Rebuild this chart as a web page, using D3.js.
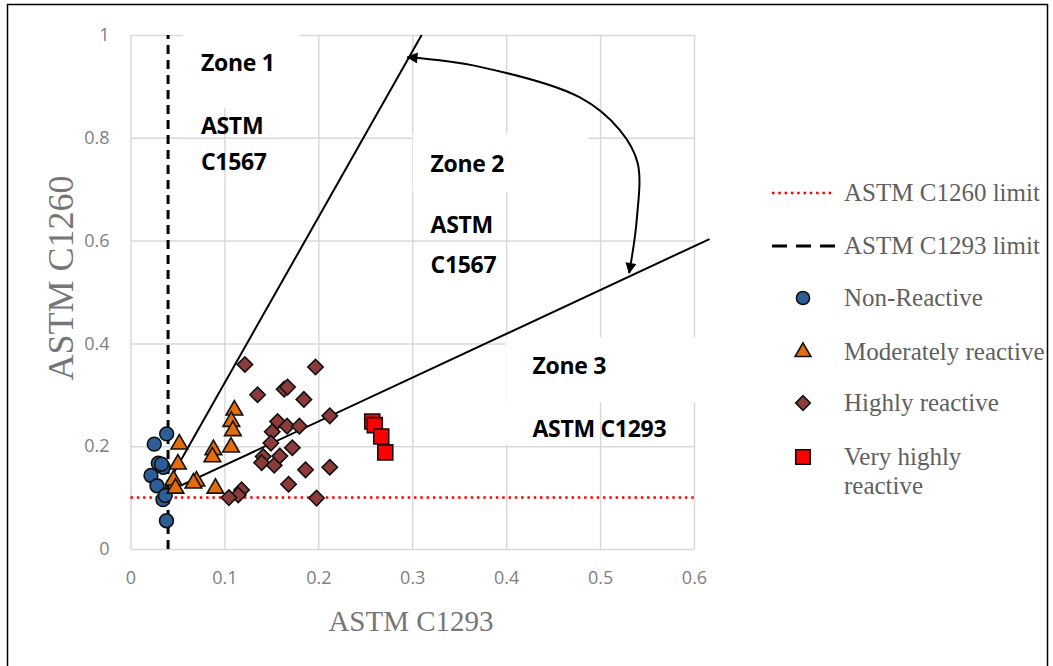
<!DOCTYPE html>
<html>
<head>
<meta charset="utf-8">
<script src="https://cdn.jsdelivr.net/npm/d3@7"></script>
<style>
  body { margin: 0; background: #fff; }
  svg { display: block; }
</style>
</head>
<body>
<div id="chart"></div>
<script>
// values: [ASTM C1293, ASTM C1260]
const nonReactive = [
  [0.0385, 0.224], [0.0253, 0.204], [0.0296, 0.167], [0.0349, 0.159], [0.033, 0.165],
  [0.0218, 0.143], [0.0282, 0.123], [0.0346, 0.096], [0.037, 0.104], [0.0383, 0.055]
];
const moderatelyReactive = [
  [0.052, 0.204], [0.0505, 0.165], [0.0457, 0.134], [0.0479, 0.118], [0.0702, 0.132],
  [0.067, 0.128], [0.0883, 0.193], [0.0872, 0.179], [0.0904, 0.118], [0.1106, 0.270],
  [0.1074, 0.248], [0.109, 0.230], [0.107, 0.198]
];
const highlyReactive = [
  [0.1218, 0.359], [0.1353, 0.300], [0.1636, 0.311], [0.1672, 0.315], [0.1846, 0.291],
  [0.197, 0.354], [0.2122, 0.259], [0.1566, 0.248], [0.1509, 0.228], [0.1667, 0.239],
  [0.1798, 0.239], [0.1495, 0.206], [0.1723, 0.197], [0.1413, 0.180], [0.1396, 0.168],
  [0.153, 0.163], [0.159, 0.181], [0.1864, 0.154], [0.2122, 0.159], [0.1683, 0.126],
  [0.1981, 0.099], [0.1183, 0.115], [0.1147, 0.105], [0.1048, 0.100]
];
const veryHighlyReactive = [
  [0.2574, 0.248], [0.2601, 0.241], [0.267, 0.219], [0.2713, 0.188]
];

const xTicks = [0, 0.1, 0.2, 0.3, 0.4, 0.5, 0.6];
const yTicks = [0, 0.2, 0.4, 0.6, 0.8, 1];

const limitC1260 = 0.1;
const limitC1293 = 0.04;

// zone boundary lines and the curved arrow between them
const zoneLineSteep = [[0.028, 0.09], [0.31, 1.0]];
const zoneLineShallow = [[0.038, 0.11], [0.6165, 0.603]];
const curveArrow = [[0.295, 0.957], [0.372, 0.938], [0.478, 0.879], [0.521, 0.815],
  [0.540, 0.751], [0.539, 0.640], [0.531, 0.537]];

// white label boxes [x0, x1, y0, y1] and zone labels
const labelBoxes = [
  [0.056, 0.18, 0.858, 1.01],
  [0.3005, 0.487, 0.695, 0.809],
  [0.40, 0.61, 0.286, 0.412],
  [0.398, 0.495, 0.204, 0.286]
];
const zoneLabels = [
  { x: 0.075, y: [0.93, 0.807, 0.737], lines: ['Zone 1', 'ASTM', 'C1567'] },
  { x: 0.3195, y: [0.733, 0.615, 0.537], lines: ['Zone 2', 'ASTM', 'C1567'] },
  { x: 0.428, y: [0.340, 0.218], lines: ['Zone 3', 'ASTM C1293'] }
];

const legendItems = ['ASTM C1260 limit', 'ASTM C1293 limit', 'Non-Reactive',
  'Moderately reactive', 'Highly reactive', ['Very highly', 'reactive']];

const W = 1053, H = 666;
const margin = { top: 35, left: 130.5 };
const width = 563.5, height = 514;

const svg = d3.select('#chart').append('svg')
  .attr('width', W).attr('height', H);

svg.append('rect').attr('width', W).attr('height', H).attr('fill', '#fff');
svg.append('rect')
  .attr('x', 7.5).attr('y', 4.5).attr('width', 1040).attr('height', 720)
  .attr('fill', 'none').attr('stroke', '#000').attr('stroke-width', 1.5);

const defs = svg.append('defs');
defs.append('marker')
  .attr('id', 'arrow')
  .attr('viewBox', '0 0 10 10')
  .attr('refX', 9).attr('refY', 5)
  .attr('markerWidth', 14).attr('markerHeight', 11)
  .attr('markerUnits', 'userSpaceOnUse')
  .attr('orient', 'auto-start-reverse')
  .append('path').attr('d', 'M0,0 L10,5 L0,10 z').attr('fill', '#000');

const chart = svg.append('g')
  .attr('transform', `translate(${margin.left}, ${margin.top})`);

const x = d3.scaleLinear().domain([0, 0.6]).range([0, width]);
const y = d3.scaleLinear().domain([0, 1]).range([height, 0]);
const fmt = d => String(+d.toFixed(1));

// gridlines
chart.append('g')
  .attr('class', 'grid-x')
  .attr('transform', `translate(0, ${height})`)
  .call(d3.axisBottom(x).tickValues(xTicks).tickSize(-height).tickFormat(''))
  .call(g => g.select('.domain').remove())
  .call(g => g.selectAll('line').attr('stroke', '#d9d9d9').attr('stroke-width', 1.5));

chart.append('g')
  .attr('class', 'grid-y')
  .call(d3.axisLeft(y).tickValues(yTicks).tickSize(-width).tickFormat(''))
  .call(g => g.select('.domain').remove())
  .call(g => g.selectAll('line').attr('stroke', '#d9d9d9').attr('stroke-width', 1.5));

// tick labels
chart.append('g')
  .attr('class', 'x-axis')
  .attr('transform', `translate(0, ${height})`)
  .call(d3.axisBottom(x).tickValues(xTicks).tickSize(0).tickPadding(22).tickFormat(fmt))
  .call(g => g.select('.domain').remove())
  .call(g => g.selectAll('text')
    .attr('fill', '#808080').attr('font-family', 'Open Sans').attr('font-size', 18));

chart.append('g')
  .attr('class', 'y-axis')
  .call(d3.axisLeft(y).tickValues(yTicks).tickSize(0).tickPadding(21).tickFormat(fmt))
  .call(g => g.select('.domain').remove())
  .call(g => g.selectAll('text')
    .attr('fill', '#808080').attr('font-family', 'Open Sans').attr('font-size', 18));

// white label boxes hiding the grid
chart.selectAll('.label-box')
  .data(labelBoxes)
  .enter()
  .append('rect')
  .attr('class', 'label-box')
  .attr('x', d => x(d[0]))
  .attr('y', d => y(d[3]))
  .attr('width', d => x(d[1]) - x(d[0]))
  .attr('height', d => y(d[2]) - y(d[3]))
  .attr('fill', '#fff');

// limit lines
chart.append('line')
  .attr('x1', x(0)).attr('x2', x(0.6))
  .attr('y1', y(limitC1260)).attr('y2', y(limitC1260))
  .attr('stroke', '#ff0000').attr('stroke-width', 2.5)
  .attr('stroke-dasharray', '2.5,3.8');

chart.append('line')
  .attr('x1', x(limitC1293)).attr('x2', x(limitC1293))
  .attr('y1', y(0)).attr('y2', y(1))
  .attr('stroke', '#000').attr('stroke-width', 3)
  .attr('stroke-dasharray', '9,6');

// zone lines
const line = d3.line().x(d => x(d[0])).y(d => y(d[1]));
[zoneLineSteep, zoneLineShallow].forEach(pts => {
  chart.append('path')
    .attr('d', line(pts))
    .attr('fill', 'none').attr('stroke', '#000').attr('stroke-width', 2);
});

chart.append('path')
  .attr('d', line.curve(d3.curveCatmullRom)(curveArrow))
  .attr('fill', 'none').attr('stroke', '#000').attr('stroke-width', 2)
  .attr('marker-start', 'url(#arrow)')
  .attr('marker-end', 'url(#arrow)');

// series
const series = [
  { data: nonReactive, type: d3.symbolCircle, size: 150, fill: '#2e5e97', rot: 0 },
  { data: moderatelyReactive, type: d3.symbolTriangle, size: 120, fill: '#e46c0a', rot: 0 },
  { data: highlyReactive, type: d3.symbolSquare, size: 118, fill: '#8c3a3a', rot: 45 },
  { data: veryHighlyReactive, type: d3.symbolSquare, size: 225, fill: '#ff0000', rot: 0 }
];

series.forEach((s, i) => {
  chart.selectAll(`.pt-${i}`)
    .data(s.data)
    .enter()
    .append('path')
    .attr('class', `pt-${i}`)
    .attr('d', d3.symbol().type(s.type).size(s.size))
    .attr('transform', d => `translate(${x(d[0])}, ${y(d[1])}) rotate(${s.rot})`)
    .attr('fill', s.fill)
    .attr('stroke', '#111')
    .attr('stroke-width', 1.6);
});

// zone labels
zoneLabels.forEach(z => {
  z.lines.forEach((t, k) => {
    chart.append('text')
      .attr('x', x(z.x)).attr('y', y(z.y[k]))
      .attr('font-family', 'Open Sans').attr('font-weight', 'bold')
      .attr('font-size', 23).attr('fill', '#000')
      .attr('letter-spacing', -0.3)
      .text(t);
  });
});

// axis titles
svg.append('text')
  .attr('x', 411).attr('y', 631)
  .attr('text-anchor', 'middle')
  .attr('font-family', 'Liberation Serif').attr('font-size', 29)
  .attr('fill', '#767676')
  .text('ASTM C1293');

svg.append('text')
  .attr('transform', 'translate(73, 278) rotate(-90)')
  .attr('text-anchor', 'middle')
  .attr('font-family', 'Liberation Serif').attr('font-size', 36)
  .attr('fill', '#767676')
  .text('ASTM C1260');

// legend
const legend = svg.append('g').attr('class', 'legend');
const legendY = [193, 246, 298, 352, 403, 457];
const sym = d3.symbol();

legend.append('line')
  .attr('x1', 772).attr('x2', 833).attr('y1', legendY[0]).attr('y2', legendY[0])
  .attr('stroke', '#ff0000').attr('stroke-width', 2.5).attr('stroke-dasharray', '2.5,3.8');
legend.append('line')
  .attr('x1', 772).attr('x2', 836).attr('y1', legendY[1]).attr('y2', legendY[1])
  .attr('stroke', '#000').attr('stroke-width', 3).attr('stroke-dasharray', '15,9');

series.forEach((s, i) => {
  legend.append('path')
    .attr('d', sym.type(s.type).size(i === 3 ? 210 : s.size * 0.9)())
    .attr('transform', `translate(803, ${legendY[i + 2]}) rotate(${s.rot})`)
    .attr('fill', s.fill).attr('stroke', '#111').attr('stroke-width', 1.6);
});

legendItems.forEach((t, i) => {
  const lines = Array.isArray(t) ? t : [t];
  lines.forEach((l, k) => {
    legend.append('text')
      .attr('x', 844).attr('y', legendY[i] + 8 + k * 29)
      .attr('font-family', 'Liberation Serif').attr('font-size', 25)
      .attr('fill', '#5f5f5f')
      .text(l);
  });
});
</script>
</body>
</html>
